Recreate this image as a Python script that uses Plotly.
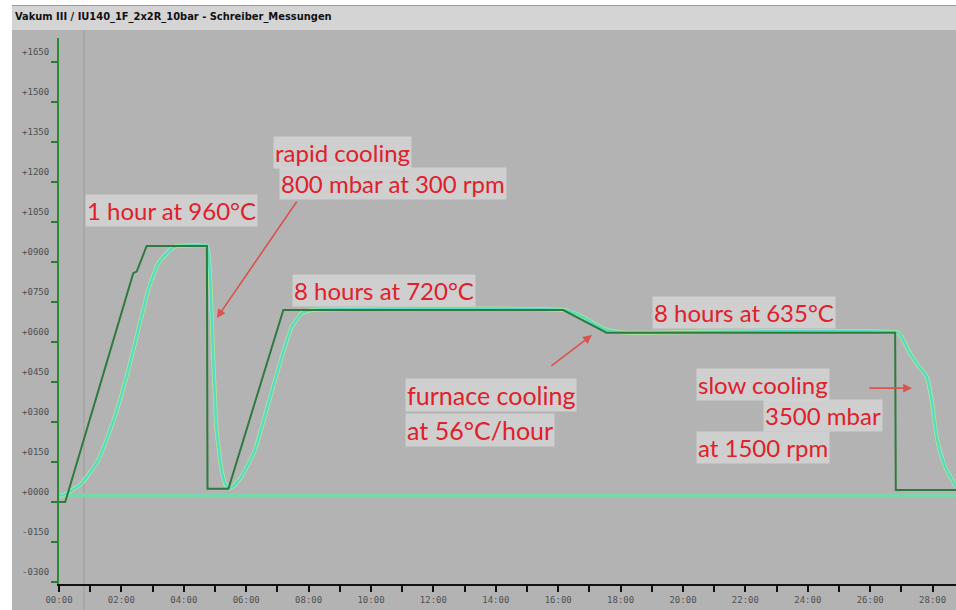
import plotly.graph_objects as go

# ---------------- data ----------------
setpoint_t = [0, 0.2, 2.38, 2.49, 2.81, 4.74, 4.76, 5.43, 7.19, 16.16, 17.55, 26.8, 26.82, 28.75]
setpoint_v = [0, 0, 858, 864, 960, 960, 50, 50, 720, 720, 635, 635, 45, 45]

actual_t = [0, 0.13, 0.73, 1.26, 1.79, 2.22, 2.54, 2.86, 3.18, 3.61, 3.8, 4.74, 4.8, 4.86,
            4.95, 5.05, 5.21, 5.32, 5.43, 5.6, 5.85, 6.28, 6.71, 7.14, 7.46, 7.78, 8.1,
            16.2, 16.7, 17.1, 17.5, 17.9, 18.3, 26.9, 27.05, 27.28, 27.55, 27.81, 27.97,
            28.13, 28.3, 28.45, 28.75]
actual_v = [25, 25, 70, 157, 320, 495, 645, 795, 895, 951, 960, 960, 920, 800,
            520, 270, 120, 70, 51, 60, 95, 195, 370, 545, 657, 708, 720,
            720, 700, 672, 648, 638, 635, 635, 610, 557, 510, 470, 382,
            245, 165, 120, 57]

baseline_t = [0, 28.75]
baseline_v = [25, 25]

y_ticks = [-300, -150, 0, 150, 300, 450, 600, 750, 900, 1050, 1200, 1350, 1500, 1650]
y_tick_labels = ["-0300", "-0150", "+0000", "+0150", "+0300", "+0450", "+0600", "+0750",
                 "+0900", "+1050", "+1200", "+1350", "+1500", "+1650"]
x_ticks = list(range(0, 29))
x_tick_labels = [("%02d:00" % h) if h % 2 == 0 else "" for h in x_ticks]

title_text = "Vakum III / IU140_1F_2x2R_10bar - Schreiber_Messungen"

# ---------------- layout geometry ----------------
W, H = 956, 610
L, R, T, B = 59, 0, 38, 26
PW, PH = W - L - R, H - T - B


def px(xp):
    return (xp - L) / PW


def py(yp):
    return (H - B - yp) / PH


fig = go.Figure()
fig.add_trace(go.Scatter(x=baseline_t, y=baseline_v, mode="lines",
                         line=dict(color="#7ad6ad", width=4), showlegend=False))
fig.add_trace(go.Scatter(x=actual_t, y=actual_v, mode="lines",
                         line=dict(color="#a6ee96", width=4, shape="spline", smoothing=0.4),
                         showlegend=False))
fig.add_trace(go.Scatter(x=actual_t, y=actual_v, mode="lines",
                         line=dict(color="#5cd9c4", width=2.5, shape="spline", smoothing=0.4),
                         showlegend=False))
fig.add_trace(go.Scatter(x=setpoint_t, y=setpoint_v, mode="lines",
                         line=dict(color="#2f7a3f", width=2), showlegend=False))

shapes = [
    # white left strip
    dict(type="rect", xref="paper", yref="paper", x0=px(0), x1=px(12), y0=py(H), y1=py(0),
         fillcolor="white", line=dict(width=0), layer="below"),
    # white top strip
    dict(type="rect", xref="paper", yref="paper", x0=px(0), x1=px(W), y0=py(5), y1=py(0),
         fillcolor="white", line=dict(width=0), layer="below"),
    # title bar
    dict(type="rect", xref="paper", yref="paper", x0=px(12), x1=px(W), y0=py(30), y1=py(5),
         fillcolor="#d4d4d4", line=dict(width=0), layer="below"),
    dict(type="line", xref="paper", yref="paper", x0=px(12), x1=px(W), y0=py(5.5), y1=py(5.5),
         line=dict(color="#9a9a9a", width=1), layer="below"),
    # thin vertical gray line
    dict(type="line", xref="paper", yref="paper", x0=px(84), x1=px(84), y0=py(H), y1=py(30),
         line=dict(color="#9c9c9c", width=1), layer="below"),
]

red = "#e0202a"
boxbg = "rgba(214,214,214,0.8)"

annotations = [
    dict(x=px(13), y=py(17), xref="paper", yref="paper", text="<b>" + title_text + "</b>",
         showarrow=False, xanchor="left", yanchor="middle",
         font=dict(family="DejaVu Sans Condensed", size=11, color="#111111")),
]

labels = [
    ("1 hour at 960°C", 0.83, 1095, 24),
    ("rapid cooling", 6.86, 1312, 24),
    ("800 mbar at 300 rpm", 7.05, 1196, 24),
    ("8 hours at 720°C", 7.47, 795, 24),
    ("furnace cooling", 11.09, 401, 25),
    ("at 56°C/hour", 11.09, 270, 25),
    ("8 hours at 635°C", 19.0, 709, 24),
    ("slow cooling", 20.42, 439, 24),
    ("3500 mbar", 22.56, 326, 24),
    ("at 1500 rpm", 20.42, 206, 24),
]
for txt, xx, yy, fs in labels:
    annotations.append(dict(x=xx, y=yy, xref="x", yref="y", text=txt, showarrow=False,
                            xanchor="left", yanchor="middle",
                            font=dict(family="Lato", size=fs, color=red),
                            bgcolor=boxbg, borderpad=1))

arrows = [
    (5.06, 690, 81, -118),
    (17.08, 626, -42, 32),
    (27.34, 427, -44, 0),
]
for xx, yy, axp, ayp in arrows:
    annotations.append(dict(x=xx, y=yy, xref="x", yref="y", ax=axp, ay=ayp, text="",
                            showarrow=True, arrowhead=2, arrowsize=1.1, arrowwidth=1.6,
                            arrowcolor="#d9534f"))

fig.update_layout(
    width=W, height=H,
    margin=dict(l=L, r=R, t=T, b=B, pad=0),
    paper_bgcolor="#b3b3b3",
    plot_bgcolor="#b3b3b3",
    shapes=shapes,
    annotations=annotations,
    showlegend=False,
    xaxis=dict(range=[0, 28.75], tickmode="array", tickvals=x_ticks, ticktext=x_tick_labels,
               showgrid=False, zeroline=False, showline=True, linecolor="#111111", linewidth=2,
               ticks="outside", ticklen=6, tickwidth=2, tickcolor="#111111",
               tickfont=dict(family="DejaVu Sans Mono", size=9, color="#505050")),
    yaxis=dict(range=[-307.5, 1740], tickmode="array", tickvals=y_ticks, ticktext=y_tick_labels,
               showgrid=False, zeroline=False, showline=True, linecolor="#2a8a35", linewidth=2,
               ticks="outside", ticklen=6, tickwidth=2, tickcolor="#2a7a35",
               ticklabelshift=-10,
               tickfont=dict(family="DejaVu Sans Mono", size=9, color="#505050")),
)

fig.write_html("out.html")
